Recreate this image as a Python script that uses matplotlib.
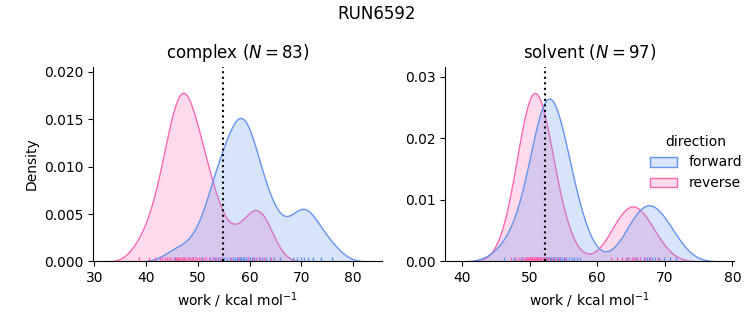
"""KDE of forward/reverse work distributions for RUN6592, complex vs solvent."""

import matplotlib

matplotlib.use("Agg")
import matplotlib.pyplot as plt
import pandas as pd
import seaborn as sns
from matplotlib.ticker import MultipleLocator

# work values (kcal/mol)
complex_forward = [
    45.5, 48.8, 50.9, 52.3, 52.9, 53.4, 53.8, 54.2, 54.6, 55.1, 55.6, 56.2,
    56.7, 57.1, 57.5, 57.8, 58.0, 58.1, 58.4, 58.7, 59.0, 59.3, 59.6, 60.0,
    60.4, 60.8, 61.3, 61.8, 62.4, 63.1, 63.9, 64.8, 65.8,
    68.3, 69.2, 70.0, 70.6, 71.3, 72.2, 73.8, 76.0,
]
complex_reverse = [
    38.6, 40.5, 41.8, 42.6, 43.1, 43.6, 44.1, 44.5, 44.9, 45.3, 45.7, 45.9,
    46.1, 46.3, 46.6, 46.9, 47.1, 47.4, 47.6, 47.9, 48.2, 48.5, 48.8, 49.1,
    49.5, 49.9, 50.3, 50.7, 51.1, 51.6, 52.2, 52.9, 53.6, 54.3,
    56.4, 58.0,
    59.6, 60.6, 61.3, 62.0, 62.8, 64.2,
]
solvent_forward = [
    46.2, 47.6, 48.7, 49.4, 50.0, 50.5, 50.9, 51.2, 51.5, 51.7, 51.9, 52.0,
    52.1, 52.2, 52.3, 52.4, 52.5, 52.6, 52.7, 52.8, 52.9, 53.0, 53.1, 53.2,
    53.4, 53.6, 53.8, 54.0, 54.2, 54.5, 54.8, 55.1, 55.4, 55.8, 56.2, 56.6,
    57.0, 57.5,
    64.4, 65.1, 65.8, 66.4, 66.9, 67.3, 67.7, 68.1, 68.6, 69.2, 69.9, 70.8, 71.6,
]
solvent_reverse = [
    47.3, 47.9, 48.4, 48.8, 49.1, 49.4, 49.6, 49.8, 49.9, 50.0, 50.1, 50.2,
    50.3, 50.4, 50.5, 50.6, 50.7, 50.8, 50.9, 51.0, 51.1, 51.2, 51.3, 51.5,
    51.7, 51.9, 52.1, 52.3, 52.6, 52.9, 53.3, 53.8, 54.4, 55.2,
    62.0, 62.9, 63.6, 64.2, 64.7, 65.1, 65.5, 65.9, 66.4, 67.0, 67.8, 69.0,
]

# free energy estimates (dotted lines)
estimates = {"complex": 54.77, "solvent": 52.3}
# density tick spacing per panel
ytick_step = {"complex": 0.005, "solvent": 0.01}

phases = ["complex", "solvent"]
directions = ["forward", "reverse"]
palette = {"forward": "cornflowerblue", "reverse": "hotpink"}


def make_frame() -> pd.DataFrame:
    rows = []
    series = {
        ("complex", "forward"): complex_forward,
        ("complex", "reverse"): complex_reverse,
        ("solvent", "forward"): solvent_forward,
        ("solvent", "reverse"): solvent_reverse,
    }
    for (phase, direction), values in series.items():
        for w in values:
            rows.append({"phase": phase, "direction": direction, "work": w})
    return pd.DataFrame(rows)


df = make_frame()

g = sns.displot(
    df,
    x="work",
    col="phase",
    hue="direction",
    kind="kde",
    fill=True,
    rug=True,
    palette=palette,
    hue_order=directions,
    col_order=phases,
    facet_kws=dict(sharex=False, sharey=False),
    height=3,
    aspect=1.2,
    bw_adjust=0.7,
)

fig = g.figure
fig.set_size_inches(7.53, 3.25)
fig.subplots_adjust(left=0.1235, right=0.975, bottom=0.1954, top=0.7948, wspace=0.221)

for ax, phase in zip(g.axes.flat, phases):
    n = int((df["phase"] == phase).sum())
    ax.set_title(f"{phase} ($N = {n}$)", fontsize=12)
    ax.axvline(estimates[phase], color="k", ls=":", lw=1.5)
    ax.set_xlabel("work / kcal mol$^{-1}$")
    lo, hi = ax.get_ylim()
    ax.set_ylim(0, hi * 1.05)
    ax.yaxis.set_major_locator(MultipleLocator(ytick_step[phase]))

fig.suptitle("RUN6592", fontsize=12, y=0.985)
sns.move_legend(g, "center left", bbox_to_anchor=(0.846, 0.5), frameon=False)

fig.savefig("out.png", dpi=100)
